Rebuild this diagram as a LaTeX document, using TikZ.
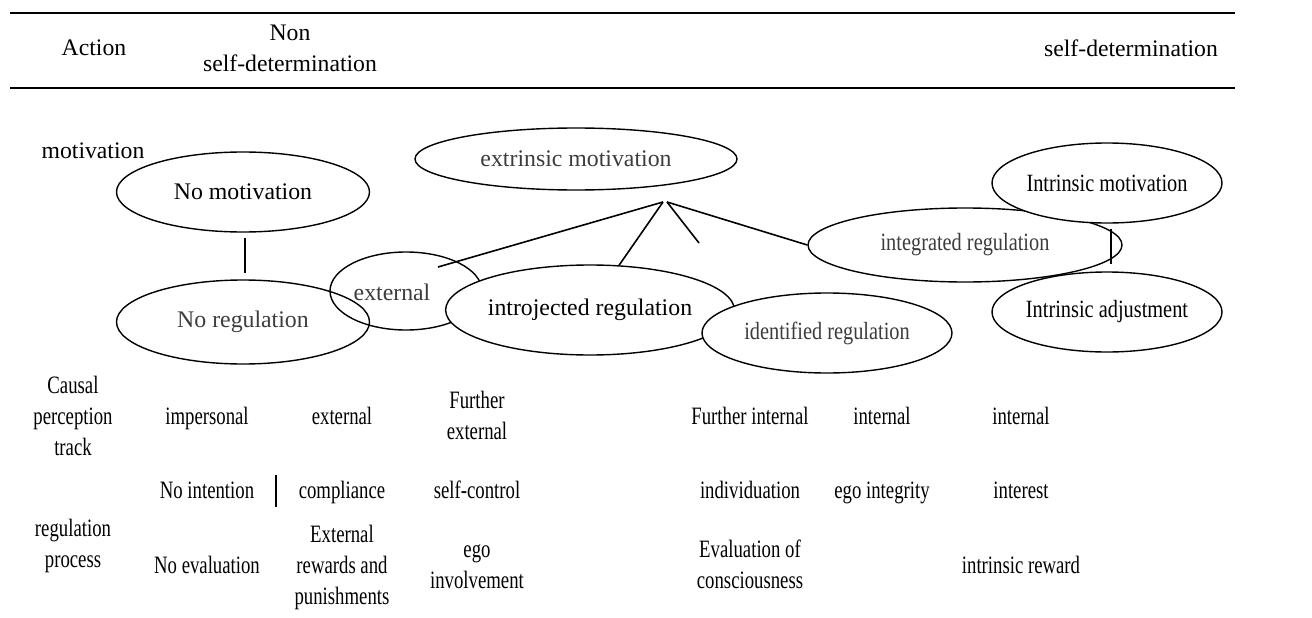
\documentclass[tikz,border=0pt]{standalone}
\usepackage{fontspec}
\setmainfont{Liberation Serif}
\usepackage{graphicx}
\usetikzlibrary{shapes.geometric,calc}
\definecolor{sdtgrey}{RGB}{60,60,60}
\newcommand{\narrow}[1]{\scalebox{0.82}[1]{#1}}
\newcommand{\celltext}[1]{\scalebox{0.75}[1]{\begin{tabular}{@{}c@{}}#1\end{tabular}}}

\begin{document}
\begin{tikzpicture}[
    x=1pt, y=-1pt,
    oval/.style={ellipse, draw, line width=1.4pt, inner sep=0pt,
                 font=\fontsize{23.8}{28}\selectfont},
    rightoval/.style={oval, font=\fontsize{24.8}{28}\selectfont},
    head/.style={align=center, font=\fontsize{23.7}{31}\selectfont},
    cell/.style={inner sep=0pt, font=\fontsize{25}{31}\selectfont},
    rule/.style={line width=2pt},
    link/.style={line width=1.6pt},
  ]
  \useasboundingbox (0,0) rectangle (1312,618);

  % --- header of the table ---
  \coordinate (ruleTL) at (10,13);
  \coordinate (ruleTR) at (1235,13);
  \coordinate (ruleBL) at (10,88);
  \coordinate (ruleBR) at (1235,88);
  \draw[rule] (ruleTL) -- (ruleTR);
  \draw[rule] (ruleBL) -- (ruleBR);
  \node[head] (action) at (94,48) {Action};
  \node[head] (nonsd) at (290,48) {Non\\self-determination};
  \node[head] (sd) at (1131,48) {self-determination};

  % --- motivation row ---
  \node[head] (motlab) at (93,151) {motivation};
  \node[oval, minimum width=253, minimum height=80] (nomot) at (243,192) {No motivation};
  \node[oval, minimum width=253, minimum height=84, text=sdtgrey] (noreg) at (243,322) {No regulation};
  \node[oval, minimum width=152, minimum height=78,
        label={[text=sdtgrey, font=\fontsize{23.8}{28}\selectfont, xshift=-14pt, yshift=-1pt]center:external}]
    (ext) at (406,291) {};
  \node[oval, minimum width=322, minimum height=62, text=sdtgrey] (extmot) at (576,159) {extrinsic motivation};
  \node[oval, minimum width=276, minimum height=90, fill=white] (intro) at (590,310) {introjected regulation};
  \node[rightoval, minimum width=250, minimum height=80, fill=white, text=sdtgrey] (ident) at (827,333) {\narrow{identified regulation}};
  \node[rightoval, minimum width=314, minimum height=74, text=sdtgrey] (integ) at (965,245) {\narrow{integrated regulation}};
  \node[rightoval, minimum width=230, minimum height=80, fill=white] (intmot) at (1107,183) {\narrow{Intrinsic motivation}};
  \node[rightoval, minimum width=230, minimum height=80] (intadj) at (1107,312) {\narrow{Intrinsic adjustment}};

  % connectors
  \coordinate (apex) at (663,202);
  \coordinate (apexR) at (667,202);
  \coordinate (extend) at (438,267);
  \coordinate (midend) at (699,243);
  \draw[link] (apex) -- (extend);
  \draw[link] (apex) -- (intro.57);
  \draw[link] (apexR) -- (midend);
  \draw[link] (apexR) -- (integ.west);
  \draw[line width=2.5pt] ([xshift=2pt, yshift=-5pt]nomot.south) -- ([xshift=2pt, yshift=6pt]noreg.north);
  \draw[line width=1.2pt] ([xshift=4pt, yshift=-5pt]intmot.south) -- ([xshift=4pt, yshift=7pt]intadj.north);

  % --- causal perception row ---
  \node[cell] (cptrack) at (73,418) {\celltext{Causal\\perception\\track}};
  \node[cell] (cp1) at (207,418) {\celltext{impersonal}};
  \node[cell] (cp2) at (342,418) {\celltext{external}};
  \node[cell] (cp3) at (477,418) {\celltext{Further\\external}};
  \node[cell] (cp4) at (750,418) {\celltext{Further internal}};
  \node[cell] (cp5) at (882,418) {\celltext{internal}};
  \node[cell] (cp6) at (1021,418) {\celltext{internal}};

  % --- regulation process rows ---
  \node[cell] (rp1) at (207,492) {\celltext{No intention}};
  \node[cell] (rp2) at (342,492) {\celltext{compliance}};
  \node[cell] (rp3) at (477,492) {\celltext{self-control}};
  \node[cell] (rp4) at (750,492) {\celltext{individuation}};
  \node[cell] (rp5) at (882,492) {\celltext{ego integrity}};
  \node[cell] (rp6) at (1021,492) {\celltext{interest}};
  \draw[line width=2pt] ($(rp1.east)!0.5!(rp2.west)+(0,-17)$) -- ($(rp1.east)!0.5!(rp2.west)+(0,15)$);

  \node[cell] (rplab) at (73,546) {\celltext{regulation\\process}};
  \node[cell] (ev1) at (207,567) {\celltext{No evaluation}};
  \node[cell] (ev2) at (342,567) {\celltext{External\\rewards and\\punishments}};
  \node[cell] (ev3) at (477,567) {\celltext{ego\\involvement}};
  \node[cell] (ev4) at (750,567) {\celltext{Evaluation of\\consciousness}};
  \node[cell] (ev6) at (1021,567) {\celltext{intrinsic reward}};
\end{tikzpicture}
\end{document}
